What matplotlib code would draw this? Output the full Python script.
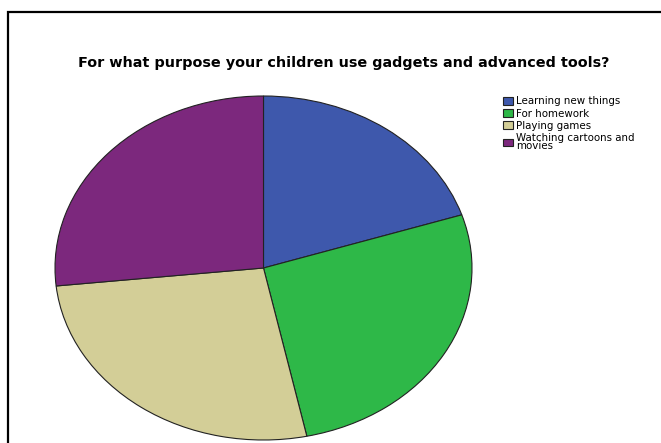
import matplotlib
matplotlib.use("Agg")
import matplotlib.pyplot as plt
from matplotlib.patches import Rectangle

plt.rcParams['font.family'] = ['DejaVu Sans']

title = "For what purpose your children use gadgets and advanced tools?"
categories = ["Learning new things", "For homework", "Playing games",
              "Watching cartoons and\nmovies"]
counts = [15, 20, 20, 20]
colors = ["#3E58AC", "#2EB848", "#D3CE97", "#7C287D"]

W, H = 661, 443
fig = plt.figure(figsize=(W / 100, H / 100), dpi=100)
fig.patch.set_facecolor("white")
renderer = fig.canvas.get_renderer()


def fit_size(text, width_px, base=10, **kw):
    """Font size at which `text` spans `width_px` pixels."""
    t = fig.text(0, 0, text, fontsize=base, **kw)
    w = t.get_window_extent(renderer).width
    t.remove()
    return base * width_px / w


# outer frame (extends past the right and bottom edges)
fig.add_artist(Rectangle((8 / W, -0.1), 1.2, (H - 12) / H + 0.1,
                         transform=fig.transFigure, fill=False,
                         edgecolor="black", linewidth=1.6))

title_fs = fit_size(title, 533, fontweight="bold")
fig.text(343.5 / W, 1 - 63 / H, title, ha="center", va="center",
         fontsize=title_fs, fontweight="bold")

# elliptical pie: unit-circle pie stretched by a non-square axes
cx, cy, rx, ry = 263.5, 268, 208.5, 172
ax = fig.add_axes([(cx - rx) / W, (H - cy - ry) / H, 2 * rx / W, 2 * ry / H])
wedges, _ = ax.pie(counts, colors=colors, startangle=90, counterclock=False,
                   radius=1.0,
                   wedgeprops=dict(edgecolor="#222222", linewidth=0.8))
ax.set_xlim(-1.0, 1.0)
ax.set_ylim(-1.0, 1.0)
ax.set_aspect("auto")
ax.axis("off")

leg_fs = fit_size(categories[0], 104)
leg = fig.legend(wedges, categories, loc="upper left",
                 bbox_to_anchor=(503 / W, 1 - 96.5 / H),
                 frameon=False, fontsize=leg_fs, handlelength=0.95,
                 handleheight=0.8, handletextpad=0.3, labelspacing=0.2,
                 borderpad=0, borderaxespad=0)
for t in leg.get_texts():
    t.set_linespacing(0.85)
for h in leg.legend_handles:
    h.set_edgecolor("#222222")
    h.set_linewidth(0.8)

fig.savefig("out.png", dpi=100, facecolor="white")
